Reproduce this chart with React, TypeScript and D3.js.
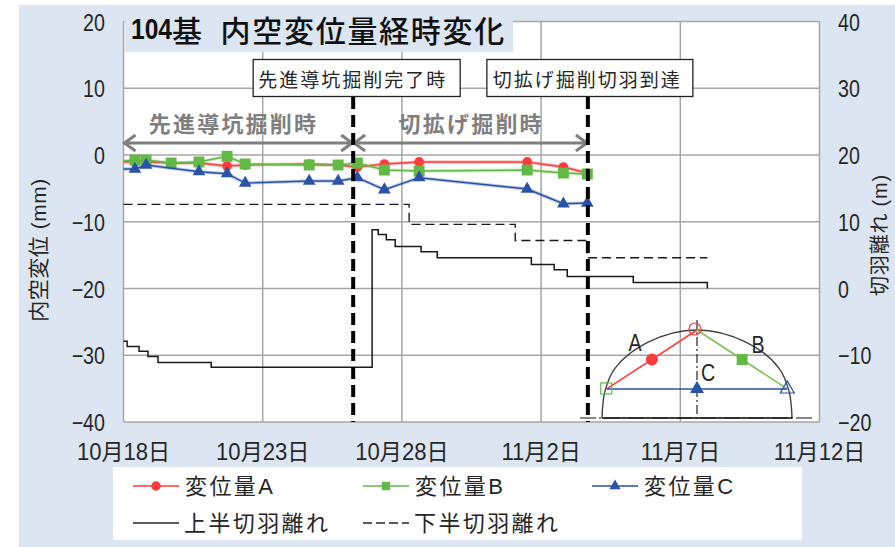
import React from "react";
import * as d3 from "d3";

const titleNumber = "104";
const titleText = "基  内空変位量経時変化";
const xTickDays = [0, 5, 10, 15, 20, 25];
const xTickLabels = ["10月18日", "10月23日", "10月28日", "11月2日", "11月7日", "11月12日"];
const leftTicks = [20, 10, 0, -10, -20, -30, -40];
const rightTicks = [40, 30, 20, 10, 0, -10, -20];

const daysA = [0, 0.41, 0.81, 1.71, 2.71, 3.72, 4.37, 6.67, 7.71, 8.4, 9.37, 10.62, 14.5, 15.8, 16.66];
const valuesA = [-1.05, -1.05, -1.05, -1.2, -1.2, -1.65, -1.5, -1.35, -1.5, -1.8, -1.35, -1.05, -1.05, -1.8, -2.7];
const daysB = [0, 0.41, 0.81, 1.71, 2.71, 3.72, 4.37, 6.67, 7.71, 8.4, 9.37, 10.62, 14.5, 15.8, 16.66];
const valuesB = [-0.9, -0.75, -0.75, -1.2, -1.05, -0.2, -1.35, -1.5, -1.5, -1.2, -2.25, -2.4, -2.25, -2.7, -2.85];
const daysC = [0, 0.41, 0.81, 2.71, 3.72, 4.37, 6.67, 7.71, 8.4, 9.37, 10.62, 14.5, 15.8, 16.66];
const valuesC = [-2.1, -2.1, -1.5, -2.5, -2.8, -4.2, -3.9, -3.9, -3.4, -5.2, -3.4, -5.1, -7.3, -7.2];

const upperDays = [0, 0.13, 0.56, 0.88, 1.24, 3.15, 8.93, 9.15, 9.44, 9.76, 10.69, 11.27, 14.65, 15.47, 15.94, 18.31, 20.97];
const upperVals = [-7.9, -8.7, -9.4, -10.2, -11.1, -11.8, 8.8, 8.1, 7.3, 6.3, 5.5, 4.6, 3.6, 2.8, 1.8, 0.9, 0];
const lowerDays = [0, 10.26, 14.07, 16.66, 20.97];
const lowerVals = [12.6, 9.6, 7.2, 4.6, 4.6];

const milestoneDays = [8.25, 16.68];
const milestoneLabels = ["先進導坑掘削完了時", "切拡げ掘削切羽到達"];
const phaseLabels = ["先進導坑掘削時", "切拡げ掘削時"];
const phaseSpans = [[0, 8.25], [8.25, 16.68]];

// tunnel cross-section sketch, in its own -1..1 / 0..1 schematic units
const archX = [-1, -0.97, -0.86, -0.52, 0, 0.52, 0.86, 0.97, 1];
const archY = [0, 0.3, 0.57, 0.86, 1, 0.86, 0.57, 0.3, 0];
const gaugeLeft = [-0.95, 0.33];
const gaugeRight = [0.95, 0.33];
const gaugeTop = [0, 1];

const FONT = "'Liberation Sans','Noto Sans CJK JP',sans-serif";
const CJK = "'Noto Sans CJK JP',sans-serif";
const BG = "#dce6f2";
const GRID = "#a6a6a6";
const INK = "#262626";
const RED = "#ff3b3b";
const GREEN = "#62b946";
const BLUE = "#2a52a8";
const W = 895, H = 547;

const x = d3.scaleLinear().domain([0, 25]).range([123.5, 819.5]);
const yL = d3.scaleLinear().domain([-40, 20]).range([422, 21.5]);
const yR = d3.scaleLinear().domain([-20, 40]).range([422, 21.5]);
const ix = d3.scaleLinear().domain([-1, 1]).range([602, 792]);
const iy = d3.scaleLinear().domain([0, 1]).range([418, 330]);

const pathOf = (xs: number[], ys: number[], sy: any, curve: any = d3.curveLinear) =>
  d3.line<number>().x((d) => x(d)).y((_, i) => sy(ys[i])).curve(curve)(xs) as string;
const circleP = d3.symbol().type(d3.symbolCircle);
const squareP = d3.symbol().type(d3.symbolSquare);
const triP = d3.symbol().type(d3.symbolTriangle);

function Narrow({ px, py, k = 0.82, anchor = "start", size = 24, children, ...rest }: any) {
  return (
    <text transform={`translate(${px},${py}) scale(${k},1)`} textAnchor={anchor} dominantBaseline="central" fontFamily={FONT} fontSize={size} fill={INK} {...rest}>
      {children}
    </text>
  );
}

function Marks({ xs, ys, path, color }: any) {
  return (
    <>
      {xs.map((d: number, i: number) =>
        d > 0 ? <path key={i} d={path} fill={color} transform={`translate(${x(d)},${yL(ys[i])})`} /> : null
      )}
    </>
  );
}

function Series({ xs, ys, color, path }: any) {
  return (
    <>
      <path d={pathOf(xs, ys, yL)} fill="none" stroke={color} strokeOpacity={0.3} strokeWidth={3.5} />
      <path d={pathOf(xs, ys, yL)} fill="none" stroke={color} strokeWidth={1.4} />
      <Marks xs={xs} ys={ys} path={path} color={color} />
    </>
  );
}

function Arrow({ a, b }: { a: number; b: number }) {
  const y = 143, l = x(a), r = x(b), h = 12, v = 8;
  return (
    <g fill="none" stroke="#7f7f7f" strokeWidth={3}>
      <path d={`M${l},${y}H${r}`} />
      <path d={`M${l + h},${y - v}L${l + 1},${y}L${l + h},${y + v}`} />
      <path d={`M${r - h},${y - v}L${r - 1},${y}L${r - h},${y + v}`} />
    </g>
  );
}

function Legend() {
  const rows = [
    { lx: 133, ly: 486, label: "変位量A", color: RED, path: circleP.size(70)() },
    { lx: 363, ly: 486, label: "変位量B", color: GREEN, path: squareP.size(70)() },
    { lx: 592, ly: 486, label: "変位量C", color: BLUE, path: triP.size(55)() },
  ];
  const txt = { fontFamily: FONT, fontSize: 22, letterSpacing: 2.4, fill: INK, dominantBaseline: "central" } as any;
  return (
    <g>
      <rect x={113} y={467} width={689} height={73} fill="#fff" />
      {rows.map((r) => (
        <g key={r.label}>
          <path d={`M${r.lx},${r.ly}h46`} stroke={r.color} strokeWidth={1.4} />
          <path d={r.path as string} fill={r.color} transform={`translate(${r.lx + 23},${r.ly})`} />
          <text x={r.lx + 52} y={r.ly} {...txt}>{r.label}</text>
        </g>
      ))}
      <path d="M133,523h46" stroke={INK} strokeWidth={1.4} />
      <text x={184} y={523} {...txt}>上半切羽離れ</text>
      <path d="M363,523h46" stroke={INK} strokeWidth={1.4} strokeDasharray="9,4" />
      <text x={414} y={523} {...txt}>下半切羽離れ</text>
    </g>
  );
}

function Inset() {
  const arch = d3.line<number>().x((d) => ix(d)).y((_, i) => iy(archY[i])).curve(d3.curveCatmullRom)(archX) as string;
  const lx = ix(gaugeLeft[0]), ly = iy(gaugeLeft[1]);
  const rx = ix(gaugeRight[0]), ry = iy(gaugeRight[1]);
  const tx = ix(gaugeTop[0]), ty = iy(gaugeTop[1]);
  return (
    <g>
      <path d={arch} fill="none" stroke="#404040" strokeWidth={1.4} />
      <path d={`M580,${iy(0)}H812`} stroke="#111" strokeWidth={1.2} strokeDasharray="16,3,2,3" />
      <path d={`M${ix(-1)},${iy(0)}H${ix(1)}`} stroke="#111" strokeWidth={1.4} />
      <path d={`M${tx},320V${iy(0)}`} stroke="#111" strokeWidth={1.1} strokeDasharray="9,3,2,3" />
      <path d={`M${lx},${ly}L${tx},${ty}`} stroke={RED} strokeWidth={1.5} />
      <path d={`M${tx},${ty}L${rx},${ry}`} stroke="#7cc04e" strokeWidth={1.5} />
      <path d={`M${lx},${ly}L${rx},${ry}`} stroke={BLUE} strokeWidth={1.5} />
      <path d={circleP.size(110)() as string} fill={RED} transform={`translate(${(lx + tx) / 2},${(ly + ty) / 2})`} />
      <path d={squareP.size(120)() as string} fill={GREEN} transform={`translate(${(rx + tx) / 2},${(ry + ty) / 2})`} />
      <path d={triP.size(85)() as string} fill={BLUE} transform={`translate(${tx},${ly})`} />
      <circle cx={tx - 2} cy={ty - 1} r={6} fill="none" stroke={RED} strokeWidth={1.2} />
      <rect x={lx - 6} y={ly - 6} width={11} height={11} fill="none" stroke={GREEN} strokeWidth={1.2} />
      <path d={triP.size(85)() as string} fill="none" stroke={BLUE} strokeWidth={1.2} transform={`translate(${rx},${ry})`} />
      <Narrow px={635} py={343} anchor="middle">A</Narrow>
      <Narrow px={758} py={345} anchor="middle">B</Narrow>
      <Narrow px={708} py={373} anchor="middle">C</Narrow>
    </g>
  );
}

export default function App() {
  return (
    <svg width={W} height={H} style={{ position: "absolute", left: 0, top: 0, display: "block" }}>
      <rect x={19} y={5} width={W - 19} height={H - 5} fill={BG} />
      <rect x={x(0)} y={yL(20)} width={x(25) - x(0)} height={yL(-40) - yL(20)} fill="#fff" />
      {leftTicks.map((t) => (
        <path key={t} d={`M${x(0)},${yL(t)}H${x(25)}`} stroke={GRID} strokeWidth={1.5} />
      ))}
      {xTickDays.map((d) => (
        <path key={d} d={`M${x(d)},${yL(20)}V${yL(-40)}`} stroke={GRID} strokeWidth={1.5} />
      ))}
      <rect x={124.5} y={5} width={388.5} height={47} fill={BG} />
      <Narrow px={131} py={29} size={30} k={0.82} fontWeight={700} fill="#111">{titleNumber}</Narrow>
      <text x={172} y={29} fontFamily={CJK} fontSize={30} fontWeight={500} fill="#111" dominantBaseline="central" letterSpacing={1.7} xmlSpace="preserve">
        {titleText}
      </text>

      {leftTicks.map((t) => (
        <Narrow key={t} px={105} py={yL(t) + 1} anchor="end">{t < 0 ? `−${-t}` : t}</Narrow>
      ))}
      {rightTicks.map((t) => (
        <Narrow key={t} px={838} py={yR(t) + 1}>{t < 0 ? `−${-t}` : t}</Narrow>
      ))}
      {xTickDays.map((d, i) => (
        <Narrow key={d} px={x(d)} py={452} anchor="middle" size={23} k={0.96}>{xTickLabels[i]}</Narrow>
      ))}
      <text transform="translate(38,250) rotate(-90)" textAnchor="middle" dominantBaseline="central" fontFamily={FONT} fontSize={21} letterSpacing={0.5} fill={INK}>内空変位 (mm)</text>
      <text transform="translate(880,235) rotate(-90)" textAnchor="middle" dominantBaseline="central" fontFamily={FONT} fontSize={20} letterSpacing={0.8} fill={INK}>切羽離れ (m)</text>

      <path d={pathOf(upperDays, upperVals, yR, d3.curveStepAfter)} fill="none" stroke="#1a1a1a" strokeWidth={1.5} />
      <path d={pathOf(lowerDays, lowerVals, yR, d3.curveStepAfter)} fill="none" stroke="#1a1a1a" strokeWidth={1.4} strokeDasharray="9,5" />

      <Inset />

      <Series xs={daysA} ys={valuesA} color={RED} path={circleP.size(75)() as string} />
      <Series xs={daysB} ys={valuesB} color={GREEN} path={squareP.size(120)() as string} />
      <Series xs={daysC} ys={valuesC} color={BLUE} path={triP.size(70)() as string} />

      {phaseLabels.map((l, i) => (
        <g key={l}>
          <Arrow a={phaseSpans[i][0]} b={phaseSpans[i][1]} />
          <text x={i === 0 ? x(phaseSpans[0][0]) + 110 : x(phaseSpans[1][0]) + 118} y={122} textAnchor="middle" dominantBaseline="central" fontFamily={CJK} fontSize={22} fontWeight={700} fill="#7f7f7f" letterSpacing={2.2}>{l}</text>
        </g>
      ))}

      {milestoneDays.map((d, i) => (
        <g key={d}>
          <path d={`M${x(d)},97V${yL(-40)}`} stroke="#000" strokeWidth={4} strokeDasharray="12,6" />
          <rect x={x(d) - (i === 0 ? 100 : 101)} y={59.5} width={i === 0 ? 207 : 206} height={37} fill="#fff" stroke="#222" strokeWidth={1.3} />
          <text x={x(d) - 0.5} y={78} textAnchor="middle" dominantBaseline="central" fontFamily={CJK} fontSize={19} letterSpacing={2} fill={INK}>{milestoneLabels[i]}</text>
        </g>
      ))}
      <Legend />
    </svg>
  );
}
